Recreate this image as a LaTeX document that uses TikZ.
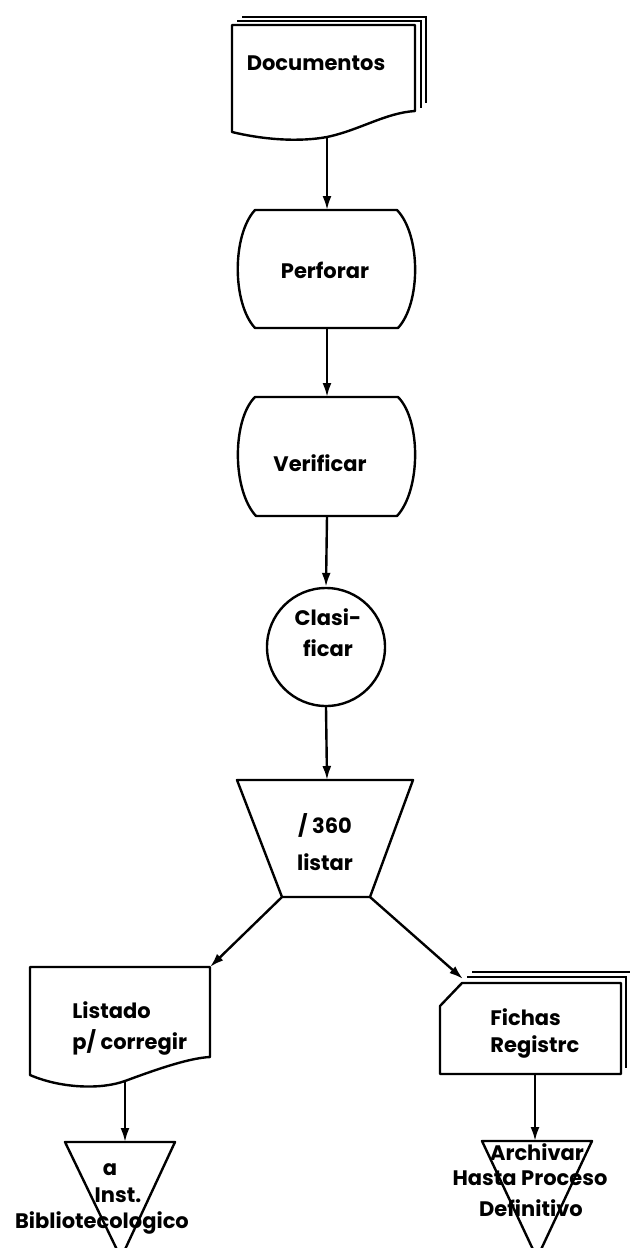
\documentclass[tikz,border=0pt]{standalone}
\usepackage{fontspec}
\setmainfont{Poppins}
\usetikzlibrary{arrows.meta}
\begin{document}
\begin{tikzpicture}[x=0.5pt,y=-0.5pt,
  outline/.style={draw=black, line width=1.2pt, line join=round},
  backsheet/.style={draw=black, line width=0.8pt},
  conn/.style={draw=black, line width=1.2pt, -{Latex[length=7pt,width=4.5pt]}},
  lbl/.style={font=\fontsize{10.5}{15}\selectfont\bfseries, inner sep=0pt}]
\useasboundingbox (0,0) rectangle (630,1248);
% Documentos (stacked documents)
\draw[backsheet] (242,17) -- (426,17) -- (426,103);
\draw[backsheet] (237,21) -- (421,21) -- (421,108);
\draw[outline, fill=white] (232,25) -- (415,25) -- (415,111)
  .. controls (385,113) and (360,130) .. (327,137)
  .. controls (300,142) and (265,140) .. (232,132) -- cycle;
\coordinate (docB) at (327,137);
\node[lbl] (doc) at (316,63) {Documentos};
% Perforar
\draw[outline] (255,210) -- (397,210) .. controls (421,235) and (421,303) .. (398,328)
  -- (255,328) .. controls (232,303) and (232,235) .. cycle;
\coordinate (perT) at (327,210);
\coordinate (perB) at (327,328);
\node[lbl] (per) at (325,270) {Perforar};
% Verificar
\draw[outline] (255,397) -- (398,397) .. controls (421,420) and (421,490) .. (397,516)
  -- (256,516) .. controls (232,490) and (232,420) .. cycle;
\coordinate (verT) at (327,397);
\coordinate (verB) at (327,516);
\node[lbl] (ver) at (320,463) {Verificar};
% Clasificar
\node[outline, circle, minimum size=59pt, inner sep=0pt] (cla) at (326,647) {};
\node[lbl, align=center, font=\fontsize{10.5}{15.5}\selectfont\bfseries] (clat) at (328,633) {Clasi-\\ficar};
% / 360 listar
\draw[outline] (237,780) -- (413,780) -- (370,897) -- (282,897) -- cycle;
\coordinate (trapT) at (327,780);
\coordinate (trapBL) at (282,897);
\coordinate (trapBR) at (370,897);
\node[lbl, align=center, font=\fontsize{10.5}{18.5}\selectfont\bfseries] (lst) at (325,842) {/ 360\\listar};
% Listado p/ corregir
\draw[outline] (30,967) -- (210,967) -- (210,1057)
  .. controls (190,1058) and (160,1068) .. (125,1081)
  .. controls (100,1090) and (60,1088) .. (30,1075) -- cycle;
\coordinate (listTR) at (210,967);
\coordinate (listB) at (125,1081);
\node[lbl, anchor=west, align=left, font=\fontsize{10.5}{15.5}\selectfont\bfseries] (listt) at (72,1028) {Listado\\p/ corregir};
% left triangle
\draw[outline] (65,1142) -- (175,1142) -- (121,1258) -- cycle;
\coordinate (triLT) at (125,1142);
\node[lbl] (ta) at (110,1170) {a};
\node[lbl] (tinst) at (118,1195) {Inst.};
\node[lbl] (tbib) at (102,1223) {Bibliotecologico};
% Fichas Registro (stacked cards)
\draw[backsheet] (472,972) -- (640,972);
\draw[backsheet] (467,977) -- (626,977) -- (626,1068);
\draw[outline, fill=white] (440,1006) -- (462,983) -- (621,983) -- (621,1074) -- (440,1074) -- cycle;
\coordinate (ficTL) at (463,979);
\coordinate (ficB) at (535,1074);
\node[lbl, anchor=west, align=left, font=\fontsize{10.5}{13.5}\selectfont\bfseries] (fict) at (490,1033) {Fichas\\Registrc};
% right triangle
\draw[outline] (482,1141) -- (592,1141) -- (537,1258) -- cycle;
\coordinate (triRT) at (535,1141);
\node[lbl] (tarch) at (537,1152) {Archivar};
\node[lbl] (thasta) at (530,1178) {Hasta Proceso};
\node[lbl] (tdef) at (531,1208) {Definitivo};
% connectors
\draw[conn] (docB) -- (perT);
\draw[conn] (perB) -- (verT);
\draw[conn] (verB) -- (cla.north);
\draw[conn] (cla.south) -- (trapT);
\draw[conn] (trapBL) -- (listTR);
\draw[conn] (trapBR) -- (ficTL);
\draw[conn] (listB) -- (triLT);
\draw[conn] (ficB) -- (triRT);
\end{tikzpicture}
\end{document}
